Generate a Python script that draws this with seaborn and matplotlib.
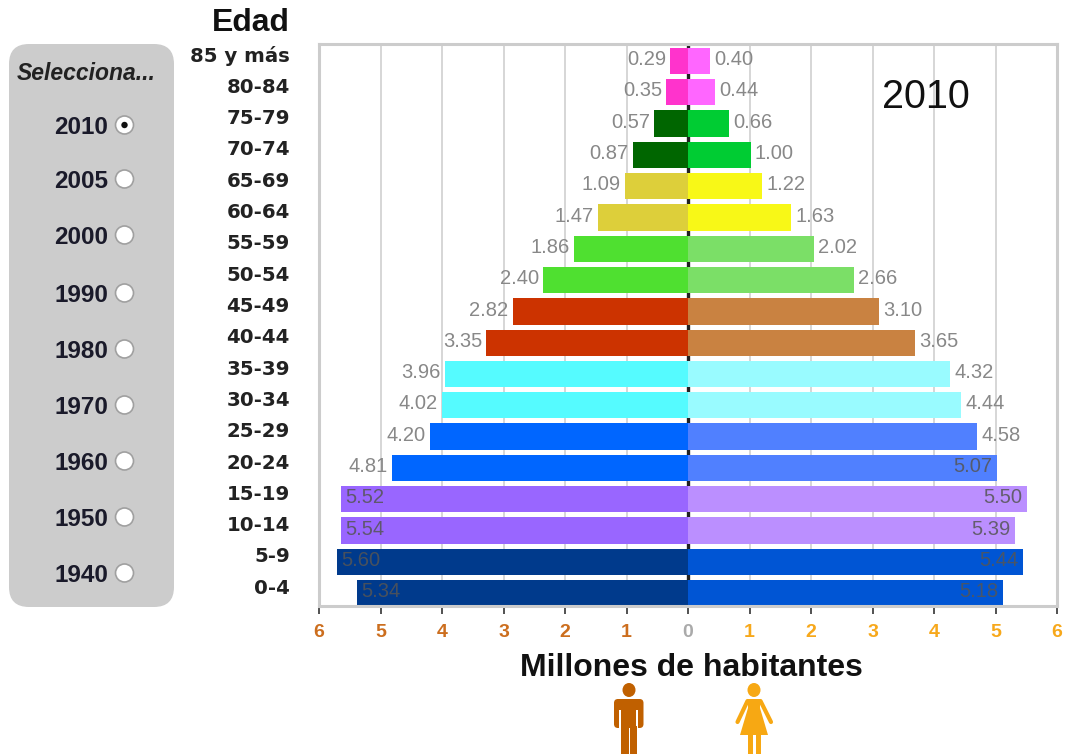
import pandas as pd
import numpy as np
import matplotlib
matplotlib.use('Agg')
import matplotlib.pyplot as plt
from matplotlib.patches import FancyBboxPatch, Circle, Ellipse, Polygon, Rectangle
from matplotlib.transforms import ScaledTranslation
import seaborn as sns

# datos, piramide 2010
edades = ['85 y más', '80-84', '75-79', '70-74', '65-69', '60-64', '55-59', '50-54', '45-49',
          '40-44', '35-39', '30-34', '25-29', '20-24', '15-19', '10-14', '5-9', '0-4']
# numbers printed next to the bars
hombres = [0.29, 0.35, 0.57, 0.87, 1.09, 1.47, 1.86, 2.40, 2.82,
           3.35, 3.96, 4.02, 4.20, 4.81, 5.52, 5.54, 5.60, 5.34]
mujeres = [0.40, 0.44, 0.66, 1.00, 1.22, 1.63, 2.02, 2.66, 3.10,
           3.65, 4.32, 4.44, 4.58, 5.07, 5.50, 5.39, 5.44, 5.18]
# bar lengths as drawn in the picture, they do not always agree with the printed number
hombres_barra = [0.29, 0.35, 0.55, 0.90, 1.02, 1.46, 1.85, 2.36, 2.85,
                 3.28, 3.95, 4.00, 4.20, 4.82, 5.64, 5.64, 5.71, 5.38]
mujeres_barra = [0.36, 0.44, 0.66, 1.02, 1.21, 1.68, 2.05, 2.70, 3.10,
                 3.69, 4.26, 4.44, 4.70, 5.02, 5.51, 5.32, 5.44, 5.12]
colores_h = ['#FF33CC', '#FF33CC', '#006600', '#006600', '#DDCF3A', '#DDCF3A', '#4FE030', '#4FE030', '#CC3300',
             '#CC3300', '#55FBFF', '#55FBFF', '#0066FF', '#0066FF', '#9966FF', '#9966FF', '#003A8C', '#003A8C']
colores_m = ['#FF66FF', '#FF66FF', '#00CC33', '#00CC33', '#F8F817', '#F8F817', '#7BDF67', '#7BDF67', '#C98241',
             '#C98241', '#99FBFF', '#99FBFF', '#5080FF', '#5080FF', '#BB8FFF', '#BB8FFF', '#0055D4', '#0055D4']
anios = ['2010', '2005', '2000', '1990', '1980', '1970', '1960', '1950', '1940']
anios_y = [126, 180, 236, 294, 350, 406, 462, 518, 574]
ticks = [-6, -5, -4, -3, -2, -1, 0, 1, 2, 3, 4, 5, 6]

sns.set_theme(style='white')
plt.rcParams['font.family'] = ['Liberation Sans', 'DejaVu Sans']

df = pd.DataFrame({'edad': edades, 'hombres': -np.array(hombres_barra), 'mujeres': mujeres_barra})

W, H = 1065, 755
fig = plt.figure(figsize=(W / 100, H / 100), dpi=100)
ax = fig.add_axes([319 / W, 1 - 606 / H, 738 / W, 562 / H])

# pyramid bars
sns.barplot(data=df, x='hombres', y='edad', hue='edad', palette=dict(zip(edades, colores_h)),
            dodge=False, legend=False, width=0.84, saturation=1, linewidth=0, ax=ax)
sns.barplot(data=df, x='mujeres', y='edad', hue='edad', palette=dict(zip(edades, colores_m)),
            dodge=False, legend=False, width=0.84, saturation=1, linewidth=0, ax=ax)

ax.set_xlim(-6, 6)
ax.set_ylim(17.41, -0.543)
ax.set_xlabel('')
ax.set_ylabel('')
ax.set_axisbelow(True)
ax.grid(axis='x', color='#CCCCCC', lw=1.1)
ax.grid(axis='y', visible=False)
ax.axvline(0, color='#222222', lw=2.4, zorder=0.9)
for s in ax.spines.values():
    s.set_color('#CCCCCC')
    s.set_linewidth(2.2)

ax.set_xticks(ticks)
ax.set_xticklabels([str(abs(t)) for t in ticks], fontsize=14, fontweight='bold')
ax.tick_params(axis='x', bottom=True, length=6, width=1.2, color='#333333', pad=7)
for t, lab in zip(ticks, ax.get_xticklabels()):
    lab.set_color('#CC6E1E' if t < 0 else '#F7A81B' if t > 0 else '#AAAAAA')

# age labels sit a bit above their bars
ax.set_yticks(range(len(edades)))
ax.set_yticklabels(edades, fontsize=14.2, fontweight='bold', family='DejaVu Sans', color='#222222')
ax.tick_params(axis='y', left=False, pad=15)
subir = ScaledTranslation(0, 5 / 72, fig.dpi_scale_trans)
for lab in ax.get_yticklabels():
    lab.set_transform(lab.get_transform() + subir)

# value labels, los mayores de 5 van dentro de la barra
for i in range(len(edades)):
    h, m = hombres[i], mujeres[i]
    hb, mb = hombres_barra[i], mujeres_barra[i]
    if h > 5:
        ax.annotate(f'{h:.2f}', (-hb, i), xytext=(3.2, 1), textcoords='offset points', ha='left', va='center',
                    fontsize=14.5, color='#555555', alpha=0.85)
    else:
        ax.annotate(f'{h:.2f}', (-hb, i), xytext=(-3, 1), textcoords='offset points', ha='right', va='center',
                    fontsize=14.5, color='#888888')
    if m > 5:
        ax.annotate(f'{m:.2f}', (mb, i), xytext=(-3.2, 1), textcoords='offset points', ha='right', va='center',
                    fontsize=14.5, color='#555555', alpha=0.85)
    else:
        ax.annotate(f'{m:.2f}', (mb, i), xytext=(3, 1), textcoords='offset points', ha='left', va='center',
                    fontsize=14.5, color='#888888')

# overlay in pixel coords for panel, titles and icons
ov = fig.add_axes([0, 0, 1, 1], facecolor='none')
ov.set_xlim(0, W)
ov.set_ylim(H, 0)
ov.axis('off')

ov.text(926, 97, '2010', fontsize=28.5, color='#111111', ha='center', va='center')
ov.text(290, 23, 'Edad', fontsize=23, fontweight='bold', color='#111111', ha='right', va='center')
ov.text(691, 668, 'Millones de habitantes', fontsize=23, fontweight='bold', color='#111111',
        ha='center', va='center')

# selector panel
ov.add_patch(FancyBboxPatch((9, 44), 165, 563, boxstyle='round,pad=0,rounding_size=20',
                            fc='#CCCCCC', ec='none'))
ov.text(86.5, 73, 'Selecciona...', fontsize=16.5, fontweight='bold', style='italic', color='#222222',
        ha='center', va='center')
for i, (a, y) in enumerate(zip(anios, anios_y)):
    ov.text(108, y + 1, a, fontsize=17.5, fontweight='bold', color='#1A1A2A', ha='right', va='center')
    ov.add_patch(Circle((124.5, y - 1), 9, fc='white', ec='#A0A0A0', lw=1.2))
    if i == 0:
        ov.add_patch(Circle((124.5, y - 1), 3.2, fc='#111111', ec='none'))

# man icon
c = '#C06000'
ov.add_patch(Ellipse((629, 690), 13, 14, fc=c, ec='none'))
ov.add_patch(FancyBboxPatch((614, 699), 29.5, 29, boxstyle='round,pad=0,rounding_size=4', fc=c, ec='none'))
ov.add_patch(Rectangle((619.3, 710), 1.6, 19, fc='white', ec='none'))
ov.add_patch(Rectangle((636.2, 710), 1.6, 19, fc='white', ec='none'))
ov.add_patch(Rectangle((621, 726), 7.6, 28, fc=c, ec='none'))
ov.add_patch(Rectangle((630, 726), 7.4, 28, fc=c, ec='none'))

# woman icon
c = '#F7A813'
ov.add_patch(Ellipse((754, 690), 13, 14, fc=c, ec='none'))
ov.add_patch(Polygon([(748, 699), (760, 699), (760, 708), (768, 735), (740, 735), (748, 708)], fc=c, ec='none'))
ov.plot([747.5, 737.5], [701, 722], color=c, lw=3, solid_capstyle='round')
ov.plot([760.5, 771], [701, 722], color=c, lw=3, solid_capstyle='round')
ov.add_patch(Rectangle((748.3, 733), 5, 21, fc=c, ec='none'))
ov.add_patch(Rectangle((756, 733), 5, 21, fc=c, ec='none'))

fig.savefig('out.png', dpi=100, facecolor='white')
